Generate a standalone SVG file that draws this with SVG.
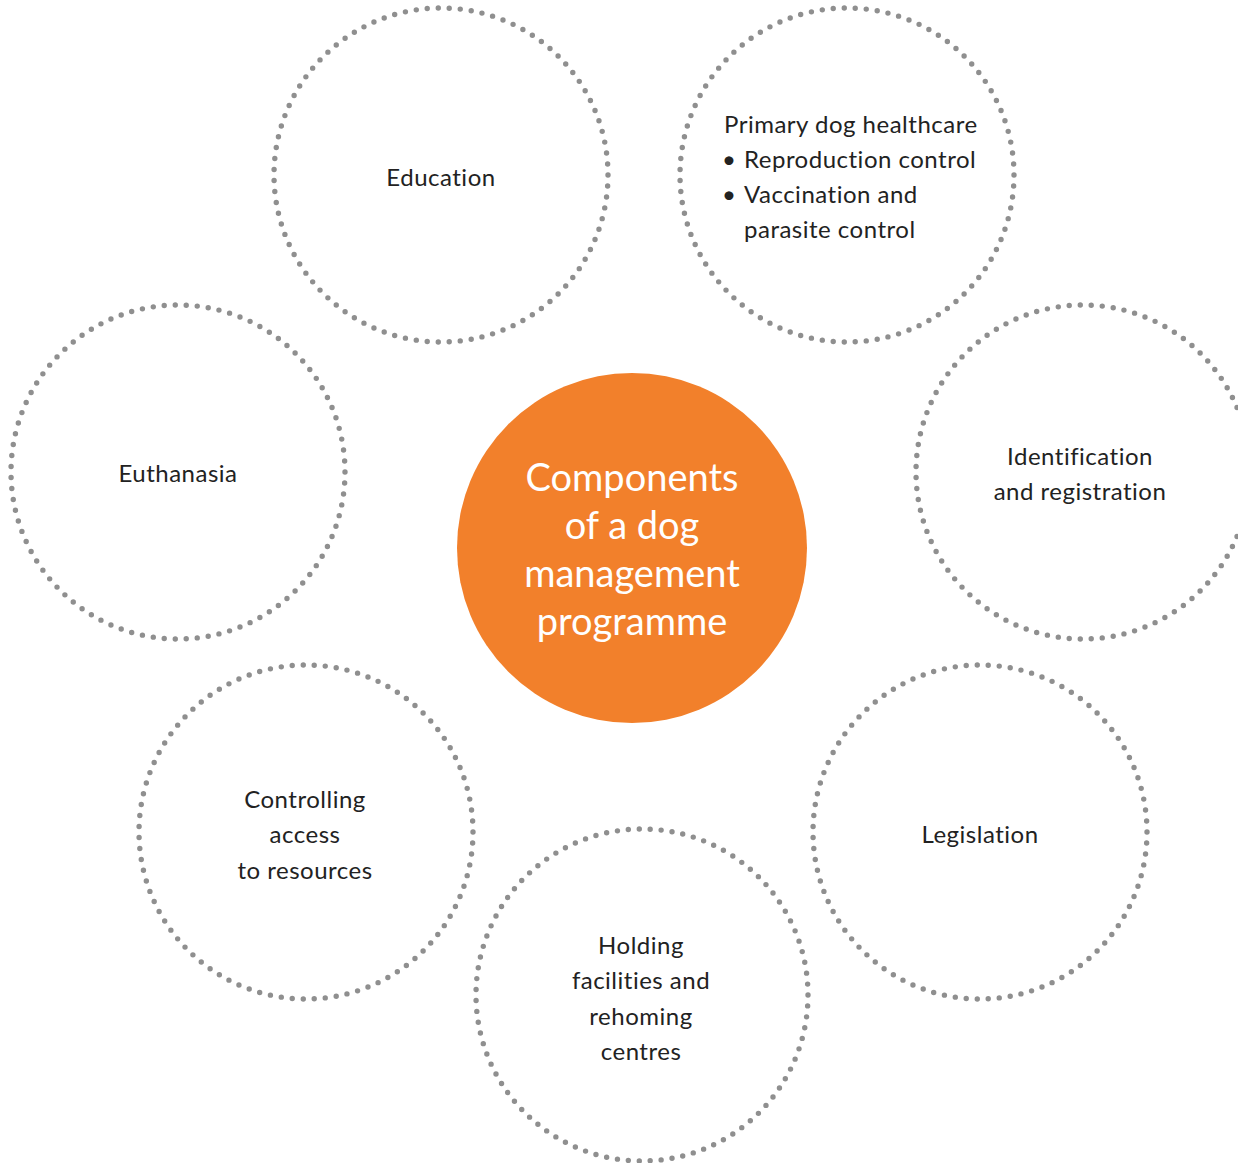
<svg xmlns="http://www.w3.org/2000/svg" width="1238" height="1163" viewBox="0 0 1238 1163">
<style>
.ring{fill:none;stroke:#8f8f8f;stroke-width:5.4;stroke-linecap:round;stroke-dasharray:0 1}
.lbl{font-family:Lato,"Liberation Sans",sans-serif;font-size:24px;letter-spacing:0.5px;font-variant-ligatures:none;fill:#222;text-anchor:middle}
.lft{text-anchor:start}
.ctr{font-family:Lato,"Liberation Sans",sans-serif;font-size:38px;fill:#fff;text-anchor:middle}
</style>
<rect width="1238" height="1163" fill="#fff"/>
<g id="connectors"></g>
<g id="center">
<circle cx="632" cy="548" r="175" fill="#f2802b"/>
<text class="ctr" x="632" y="491">Components</text>
<text class="ctr" x="632" y="539">of a dog</text>
<text class="ctr" x="632" y="587">management</text>
<text class="ctr" x="632" y="635">programme</text>
</g>
<g id="education">
<circle class="ring" cx="441" cy="175" r="167" pathLength="95"/>
<text class="lbl" x="441" y="186">Education</text>
</g>
<g id="healthcare">
<circle class="ring" cx="847" cy="175" r="167" pathLength="95"/>
<text class="lbl lft" x="724" y="133">Primary dog healthcare</text>
<text class="lbl lft" x="722" y="168">•</text>
<text class="lbl lft" x="744" y="168">Reproduction control</text>
<text class="lbl lft" x="722" y="203">•</text>
<text class="lbl lft" x="744" y="203">Vaccination and</text>
<text class="lbl lft" x="744" y="238">parasite control</text>
</g>
<g id="euthanasia">
<circle class="ring" cx="178" cy="472" r="167" pathLength="95"/>
<text class="lbl" x="178" y="482">Euthanasia</text>
</g>
<g id="identification">
<circle class="ring" cx="1083" cy="472" r="167" pathLength="95"/>
<text class="lbl" x="1080" y="465">Identification</text>
<text class="lbl" x="1080" y="500">and registration</text>
</g>
<g id="controlling">
<circle class="ring" cx="306" cy="832" r="167" pathLength="95"/>
<text class="lbl" x="305" y="808">Controlling</text>
<text class="lbl" x="305" y="843">access</text>
<text class="lbl" x="305" y="879">to resources</text>
</g>
<g id="legislation">
<circle class="ring" cx="980" cy="832" r="167" pathLength="95"/>
<text class="lbl" x="980" y="843">Legislation</text>
</g>
<g id="holding">
<circle class="ring" cx="642" cy="995" r="166" pathLength="95"/>
<text class="lbl" x="641" y="954">Holding</text>
<text class="lbl" x="641" y="989">facilities and</text>
<text class="lbl" x="641" y="1025">rehoming</text>
<text class="lbl" x="641" y="1060">centres</text>
</g>
</svg>
